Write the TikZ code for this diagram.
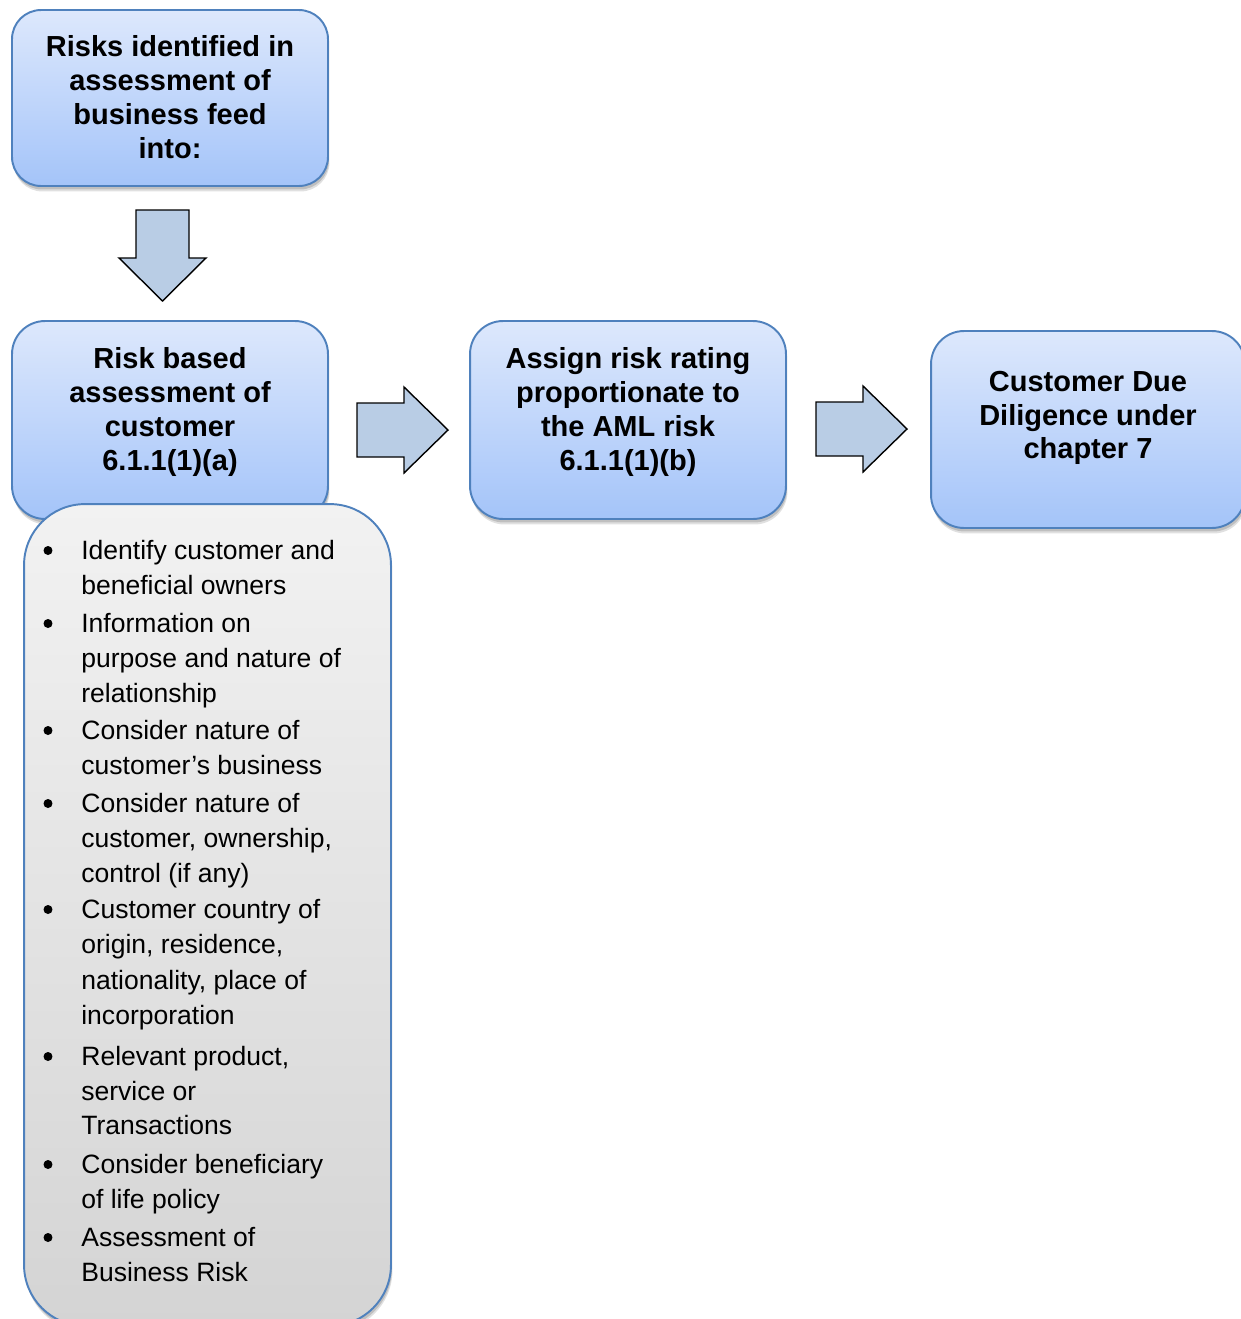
\documentclass[tikz,border=0pt]{standalone}
\usepackage{fontspec}
\setmainfont{Liberation Sans}
\usetikzlibrary{shadows}
\definecolor{boxtop}{RGB}{221,232,252}
\definecolor{boxbot}{RGB}{164,196,249}
\definecolor{boxline}{RGB}{79,129,189}
\definecolor{greytop}{RGB}{242,242,242}
\definecolor{greybot}{RGB}{212,212,212}
\definecolor{arrfill}{RGB}{185,205,229}
\tikzset{
  softshadow/.style={
    drop shadow={shadow xshift=0.03cm, shadow yshift=-0.11cm, opacity=0.12, fill=black},
    drop shadow={shadow xshift=0.02cm, shadow yshift=-0.07cm, opacity=0.15, fill=black}},
  bluebox/.style={rectangle, draw=boxline, line width=1.1pt, top color=boxtop, bottom color=boxbot, softshadow},
  greybox/.style={rectangle, draw=boxline, line width=1.1pt, top color=greytop, bottom color=greybot,
    rounded corners=1.22cm, minimum width=7.34cm, minimum height=16.44cm, softshadow},
  title/.style={font=\fontsize{16.5pt}{19.4pt}\selectfont\bfseries, inner sep=0pt, anchor=base},
  item/.style={font=\fontsize{15.1pt}{19.9pt}\selectfont, inner sep=0pt, anchor=base west},
  blockarrow/.style={draw=black, line width=0.8pt, fill=arrfill, line join=miter},
  dot/.style={circle, fill=black, inner sep=0pt, minimum size=0.18cm}
}
\begin{document}
\begin{tikzpicture}[x=0.02cm, y=-0.02cm]
\useasboundingbox (0,0) rectangle (1241,1319);
\clip (0,0) rectangle (1241,1319);

% box 1
\node[bluebox, rounded corners=0.58cm, minimum width=6.32cm, minimum height=3.52cm] (box1) at (170,98) {};
\foreach \yy/\tt [count=\i] in {56.7/{Risks identified in}, 90.4/{assessment of}, 124/{business feed}, 158/{into:}}
  \node[title] (b1l\i) at (170,\yy) {\tt};

% down arrow
\draw[blockarrow] (136,210) -- (189,210) -- (189,258) -- (206,258) -- (162.5,301) -- (119,258) -- (136,258) -- cycle;

% box 2
\node[bluebox, rounded corners=0.66cm, minimum width=6.32cm, minimum height=3.96cm] (box2) at (170,420) {};
\foreach \yy/\tt [count=\i] in {368/{Risk based}, 402/{assessment of}, 436/{customer}, 470/{6.1.1(1)(a)}}
  \node[title] (b2l\i) at (170,\yy) {\tt};

% grey list box
\node[greybox] (list) at (207.5,915) {};
\foreach \yy in {559,632,739,812,918,1065,1173,1246}
  \node[dot] (dot\yy) at (48,\yy-8.5) {};
\foreach \yy/\tt [count=\i] in {
  559/{Identify customer and}, 594/{beneficial owners},
  632/{Information on}, 667/{purpose and nature of}, 702/{relationship},
  739/{Consider nature of}, 774/{customer’s business},
  812/{Consider nature of}, 847/{customer, ownership,}, 882/{control (if any)},
  918/{Customer country of}, 953/{origin, residence,}, 989/{nationality, place of}, 1024/{incorporation},
  1065/{Relevant product,}, 1100/{service or}, 1134/{Transactions},
  1173/{Consider beneficiary}, 1208/{of life policy},
  1246/{Assessment of}, 1281/{Business Risk}}
  \node[item] (li\i) at (81,\yy) {\tt};

% arrow 1
\draw[blockarrow] (357,403) -- (404,403) -- (404,387) -- (448,430) -- (404,473) -- (404,457) -- (357,457) -- cycle;

% box 3
\node[bluebox, rounded corners=0.66cm, minimum width=6.32cm, minimum height=3.96cm] (box3) at (628,420) {};
\foreach \yy/\tt [count=\i] in {368/{Assign risk rating}, 402/{proportionate to}, 436/{the AML risk}, 470/{6.1.1(1)(b)}}
  \node[title] (b3l\i) at (628,\yy) {\tt};

% arrow 2
\draw[blockarrow] (816,402) -- (863,402) -- (863,386) -- (907,429) -- (863,472) -- (863,456) -- (816,456) -- cycle;

% box 4
\node[bluebox, rounded corners=0.66cm, minimum width=6.28cm, minimum height=3.94cm] (box4) at (1088,429.5) {};
\foreach \yy/\tt [count=\i] in {391/{Customer Due}, 425/{Diligence under}, 458/{chapter 7}}
  \node[title] (b4l\i) at (1088,\yy) {\tt};
\end{tikzpicture}
\end{document}
